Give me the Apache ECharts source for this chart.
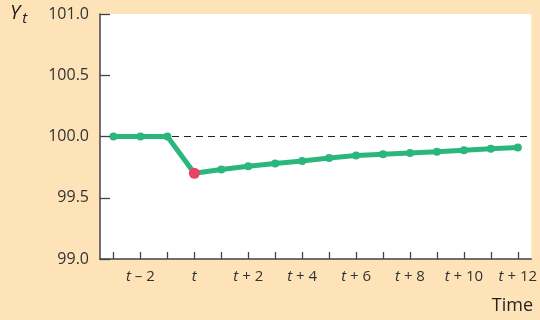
<!DOCTYPE html>
<html>
<head>
<meta charset="utf-8">
<script src="https://cdn.jsdelivr.net/npm/echarts@6/dist/echarts.min.js"></script>
<style>
  html, body { margin: 0; padding: 0; background: #fee3b8; }
  #chart { width: 540px; height: 320px; }
</style>
</head>
<body>
<div id="chart"></div>
<script>
// periods t-3 .. t+12
const periods = ['t−3', 't−2', 't−1', 't', 't+1', 't+2', 't+3', 't+4', 't+5', 't+6', 't+7', 't+8', 't+9', 't+10', 't+11', 't+12'];
const periodLabels = ['', '{i|t} – 2', '', '{i|t}', '', '{i|t} + 2', '', '{i|t} + 4', '', '{i|t} + 6', '', '{i|t} + 8', '', '{i|t} + 10', '', '{i|t} + 12'];
const output = [100, 100, 100, 99.70, 99.73, 99.757, 99.78, 99.80, 99.825, 99.844, 99.855, 99.866, 99.875, 99.888, 99.90, 99.91];
const shockIndex = 3;
const baseline = 100;

const labelFont = '"Open Sans", "Noto Sans", sans-serif';
const green = '#2bb77b';
const red = '#ea4262';

const chart = echarts.init(document.getElementById('chart'));

const pointData = output.map(function (v, i) {
    if (i === shockIndex) {
        return { value: v, itemStyle: { color: red }, symbolSize: 11 };
    }
    return v;
});

chart.setOption({
    backgroundColor: '#fee3b8',
    animation: false,
    grid: {
        left: 100, top: 14, right: 7, bottom: 61,
        show: true, backgroundColor: '#ffffff', borderWidth: 0, z: 0
    },
    xAxis: {
        type: 'category',
        data: periods,
        boundaryGap: true,
        z: 5,
        axisLine: { lineStyle: { color: '#444', width: 1.5 } },
        axisTick: { show: true, inside: true, length: 7, alignWithLabel: true, interval: 0, lineStyle: { color: '#444', width: 1.3 } },
        axisLabel: {
            interval: 0,
            margin: 10,
            color: '#333',
            fontFamily: labelFont,
            fontSize: 15,
            formatter: function (val, idx) { return periodLabels[idx]; },
            rich: { i: { fontStyle: 'italic', fontFamily: labelFont, fontSize: 15, color: '#333' } }
        },
        splitLine: { show: false }
    },
    yAxis: {
        type: 'value',
        min: 99,
        max: 101,
        interval: 0.5,
        z: 5,
        axisLine: { show: true, lineStyle: { color: '#444', width: 1.5 } },
        axisTick: { show: true, inside: true, length: 10, lineStyle: { color: '#444', width: 1.3 } },
        axisLabel: {
            margin: 11,
            color: '#333',
            fontFamily: labelFont,
            fontSize: 16,
            formatter: function (v) { return v.toFixed(1); }
        },
        splitLine: { show: false }
    },
    series: [{
        type: 'line',
        data: pointData,
        symbol: 'circle',
        symbolSize: 8,
        showAllSymbol: true,
        lineStyle: { color: green, width: 5 },
        itemStyle: { color: green },
        z: 3,
        markLine: {
            silent: true,
            symbol: 'none',
            label: { show: false },
            lineStyle: { color: '#222', type: [7, 5], width: 1.2 },
            data: [{ yAxis: baseline }],
            z: 2
        }
    }],
    graphic: [
        {
            type: 'text', left: 10, top: 3,
            style: {
                text: '{y|Y}{s|t}',
                rich: {
                    y: { fontStyle: 'italic', fontFamily: labelFont, fontSize: 20, fill: '#222' },
                    s: { fontStyle: 'italic', fontFamily: labelFont, fontSize: 15, fill: '#222', padding: [12, 0, 0, 2] }
                }
            }
        },
        {
            type: 'text', right: 7, top: 297,
            style: { text: 'Time', fontFamily: labelFont, fontSize: 18, fill: '#222' }
        }
    ]
});
</script>
</body>
</html>
